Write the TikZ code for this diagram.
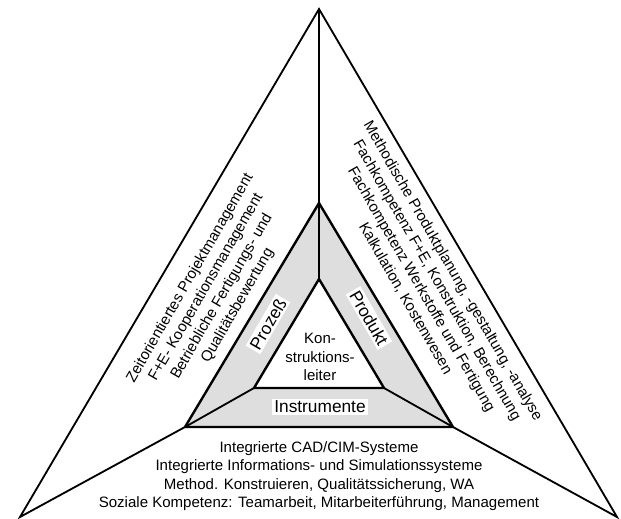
\documentclass[tikz,border=0pt]{standalone}
\usepackage{fontspec}
\setmainfont{Liberation Sans}
\usetikzlibrary{positioning}

\begin{document}
\begin{tikzpicture}[
  linie/.style={black, line width=1.3pt},
  kante/.style={black, line width=1.7pt},
  feld/.style={fill=black!13},
  etikett/.style={fill=white, inner sep=1.5pt, font=\fontsize{12.3}{14}\selectfont},
  block/.style={align=center, inner sep=0pt, font=\fontsize{10.7}{13}\selectfont}]
  \useasboundingbox (0,0) rectangle (15.525,-12.95);
  \coordinate (spitze) at (7.975,-0.225);
  \coordinate (links)  at (0.5,-12.925);
  \coordinate (rechts) at (15.425,-12.925);
  \coordinate (g1) at (7.975,-5.075);
  \coordinate (g2) at (4.625,-10.675);
  \coordinate (g3) at (11.325,-10.675);
  \coordinate (w1) at (7.975,-6.975);
  \coordinate (w2) at (6.35,-9.7);
  \coordinate (w3) at (9.6,-9.7);
  \draw[kante, feld] (g1) -- (g2) -- (g3) -- cycle;
  \draw[kante, fill=white] (w1) -- (w2) -- (w3) -- cycle;
  \draw[linie] (w2) -- (g2) -- (links) -- (spitze) -- (rechts) -- (g3) -- (w3);
  \draw[linie] (spitze) -- (w1);
  \node[etikett] (instr) at (8.0,-10.175) {Instrumente};
  \node[etikett, rotate=60]  (proz) at (6.7,-8.1)   {Prozeß};
  \node[etikett, rotate=-60] (prod) at (9.225,-7.95) {Produkt};
  \node[block] (leiter) at (8.0,-8.925) {Kon-\\struktions-\\leiter};
  \node[block, rotate=60] (links-text) at (5.35,-7.3)
    {Zeitorientiertes Projektmanagement\\F+E- Kooperationsmanagement\\Betriebliche Fertigungs- und\\Qualitätsbewertung};
  \node[block, rotate=-60] (rechts-text) at (10.73,-7.12)
    {Methodische Produktplanung, -gestaltung, -analyse\\Fachkompetenz F+E, Konstruktion, Berechnung\\Fachkompetenz Werkstoffe und Fertigung\\Kalkulation, Kostenwesen};
  \node[block] (unten-text) at (7.975,-11.9)
    {Integrierte CAD/CIM-Systeme\\Integrierte Informations- und Simulationssysteme\\Method. Konstruieren, Qualitätssicherung, WA\\Soziale Kompetenz: Teamarbeit, Mitarbeiterführung, Management};
\end{tikzpicture}
\end{document}
